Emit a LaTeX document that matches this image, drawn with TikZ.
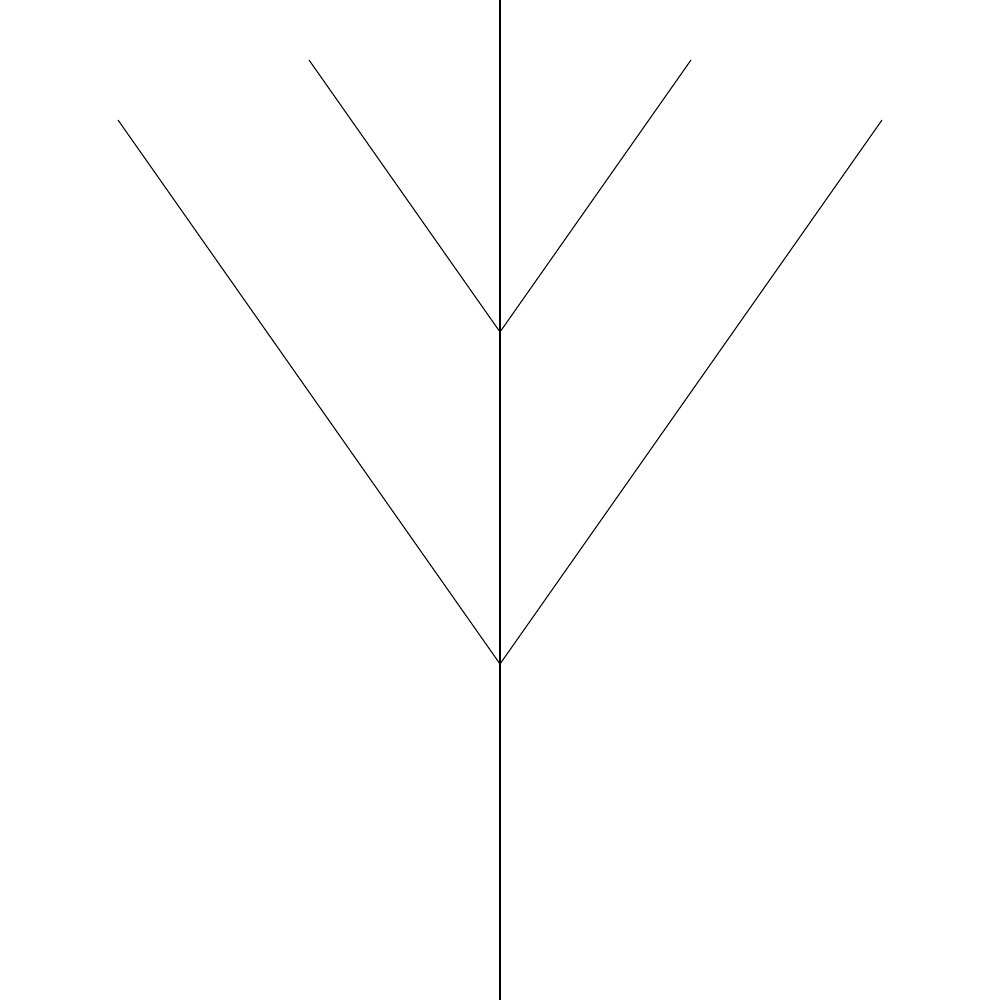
\documentclass[tikz,border=0pt]{standalone}
\usepackage{xcolor}
\usepackage{amsmath}
\usepackage{tikz}

\begin{document}
\begin{tikzpicture}[stem/.style={line width=0.3pt}]

	\useasboundingbox (0,0) rectangle (10,10);
	\coordinate (r) at (5,0);
	\coordinate (v1) at (5,3.36);
	\coordinate (v2) at (5,6.68);
	\coordinate (t) at (5,10);
	\coordinate (l1) at (1.18,8.80);
	\coordinate (r1) at (8.82,8.80);
	\coordinate (l2) at (3.09,9.40);
	\coordinate (r2) at (6.91,9.40);

	\draw[stem] (r) -- (v1) -- (v2) -- (t);
	\draw[stem] (l1) -- (v1) -- (r1);
	\draw[stem] (l2) -- (v2) -- (r2);
\end{tikzpicture}
\end{document}
